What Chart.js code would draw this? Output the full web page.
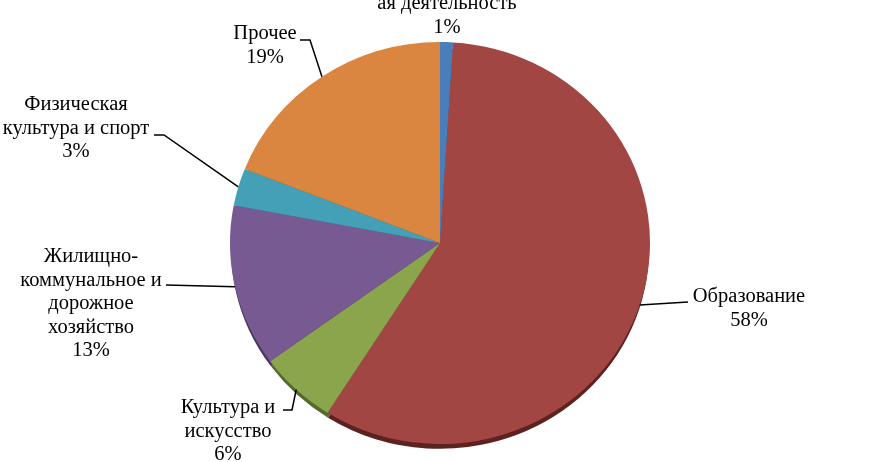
<!DOCTYPE html>
<html>
<head>
<meta charset="utf-8">
<script src="https://cdn.jsdelivr.net/npm/chart.js@4.4.0/dist/chart.umd.min.js"></script>
<style>
  body { margin: 0; background: #fff; }
  canvas { display: block; }
</style>
</head>
<body>
<canvas id="pie" width="878" height="462"></canvas>
<script>
// Data
const categories = [
    ["ая деятельность"],
    ["Образование"],
    ["Культура и", "искусство"],
    ["Жилищно-", "коммунальное и", "дорожное", "хозяйство"],
    ["Физическая", "культура и спорт"],
    ["Прочее"]
];
const shares = [1, 58, 6, 13, 3, 19];
const percentLabels = ["1%", "58%", "6%", "13%", "3%", "19%"];

const colors = ["#4A7EBB", "#A24644", "#8BA54D", "#775A92", "#44A0B6", "#DA8540"];
const rimColors = ["#2f5080", "#5c2220", "#556a2c", "#4a375d", "#2a6676", "#8d5222"];

// label placement: text centre x, first line y, leader elbow points (ending at text)
const labelLayout = [
    { x: 447, y: 4, path: null },
    { x: 749, y: 297, path: [[688, 302]] },
    { x: 228, y: 408, path: [[292, 410], [283, 410]] },
    { x: 91, y: 257, path: [[166, 285]] },
    { x: 76, y: 105, path: [[164, 135], [154, 135]] },
    { x: 265, y: 34, path: [[310, 40], [300, 40]] }
];

const squash = 201 / 210;
const lineH = 23.5;
const labelFont = '20.5px "Liberation Serif", "Times New Roman", serif';

const ellipsePlugin = {
    id: "ellipse",
    beforeDatasetsDraw(chart) {
        const ctx = chart.ctx;
        const arcs = chart.getDatasetMeta(0).data;
        const cx = arcs[0].x, cy = arcs[0].y;
        ctx.save();
        ctx.translate(cx, cy);
        ctx.scale(1, squash);
        ctx.translate(-cx, -cy);
        // 3d rim underneath
        arcs.forEach((arc, i) => {
            const p = arc.getProps(["x", "y", "startAngle", "endAngle", "outerRadius"]);
            ctx.beginPath();
            ctx.moveTo(p.x, p.y + 6);
            ctx.arc(p.x, p.y + 6, p.outerRadius - 1, p.startAngle, p.endAngle);
            ctx.closePath();
            ctx.fillStyle = rimColors[i];
            ctx.fill();
        });
    },
    afterDatasetsDraw(chart) {
        const ctx = chart.ctx;
        ctx.restore();
        const arcs = chart.getDatasetMeta(0).data;
        ctx.save();
        ctx.strokeStyle = "#000";
        ctx.lineWidth = 1.5;
        ctx.fillStyle = "#000";
        ctx.font = labelFont;
        ctx.textAlign = "center";
        ctx.textBaseline = "middle";
        arcs.forEach((arc, i) => {
            const p = arc.getProps(["x", "y", "startAngle", "endAngle", "outerRadius"]);
            const mid = (p.startAngle + p.endAngle) / 2;
            const lay = labelLayout[i];
            if (lay.path) {
                const sx = p.x + p.outerRadius * Math.cos(mid);
                const sy = p.y + p.outerRadius * Math.sin(mid) * squash;
                ctx.beginPath();
                ctx.moveTo(sx, sy);
                lay.path.forEach(pt => ctx.lineTo(pt[0], pt[1]));
                ctx.stroke();
            }
            const lines = categories[i].concat([percentLabels[i]]);
            lines.forEach((t, k) => ctx.fillText(t, lay.x, lay.y + k * lineH));
        });
        ctx.restore();
    }
};

document.addEventListener("DOMContentLoaded", () => {
    const ctx = document.getElementById("pie").getContext("2d");
    new Chart(ctx, {
        type: "pie",
        data: {
            labels: categories.map(c => c.join(" ")),
            datasets: [
                {
                    data: shares,
                    backgroundColor: colors,
                    borderWidth: 0,
                },
            ],
        },
        options: {
            responsive: false,
            animation: false,
            layout: { padding: { top: 33, bottom: 9, left: 20, right: 18 } },
            plugins: {
                legend: { display: false },
                tooltip: { enabled: false },
            },
        },
        plugins: [ellipsePlugin],
    });
});
</script>
</body>
</html>
